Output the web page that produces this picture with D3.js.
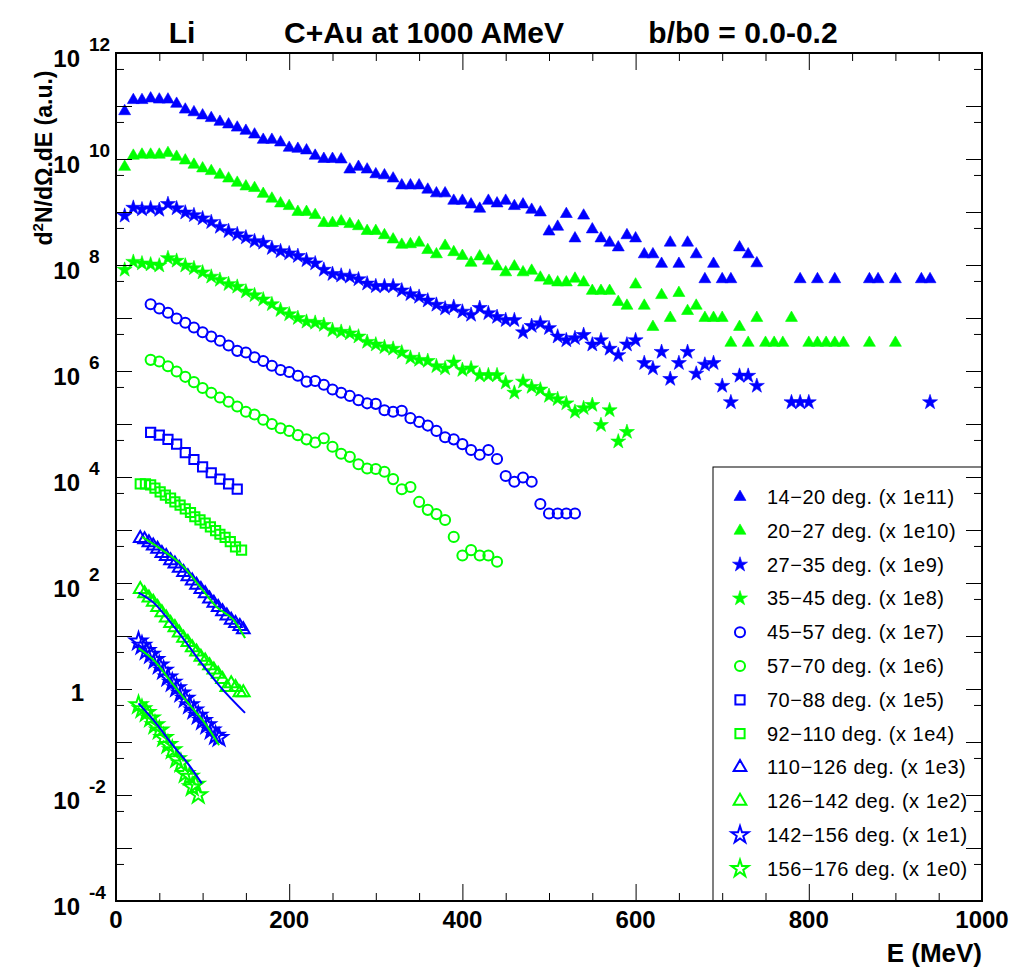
<!DOCTYPE html>
<html><head><meta charset="utf-8">
<script src="https://cdn.jsdelivr.net/npm/d3@7"></script>
<style>body{margin:0;background:#fff}svg{display:block}</style>
</head><body>
<script>
// ---------- DATA (E in MeV, values given as log10 of d2N/dOmega.dE) ----------
const s1_E = [10,20,30,40,50,60,70,80,90,100,110,120,130,140,150,160,170,180,190,200,210,220,230,240,250,260,270,280,290,300,310,320,330,340,350,360,370,380,390,400,410,420,430,440,450,460,470,480,490,500,510,520,530,540,550,560,570,580,590,600,610,620,630,640,650,660,670,680,690,700,710,720,730,740,790,810,830,870,880,900,930,940];
const s1_L = [10.92,11.13,11.13,11.16,11.14,11.14,11.06,10.95,10.90,10.84,10.79,10.72,10.67,10.61,10.55,10.48,10.38,10.38,10.33,10.23,10.21,10.18,10.08,10.02,10.02,10.01,9.82,9.87,9.82,9.73,9.71,9.65,9.52,9.52,9.52,9.44,9.37,9.37,9.23,9.23,9.16,9.08,9.23,9.18,9.23,9.13,9.16,9.06,9.01,8.65,8.74,8.98,8.52,8.95,8.69,8.52,8.44,8.35,8.58,8.52,8.22,8.22,8.04,8.44,8.04,8.44,8.22,7.75,8.04,7.75,7.75,8.35,8.22,8.05,7.75,7.75,7.75,7.75,7.75,7.75,7.75,7.75];

const s2_E = [10,20,30,40,50,60,70,80,90,100,110,120,130,140,150,160,170,180,190,200,210,220,230,240,250,260,270,280,290,300,310,320,330,340,350,360,370,380,390,400,410,420,430,440,450,460,470,480,490,500,510,520,530,540,550,560,570,580,590,600,610,620,630,640,650,660,670,680,690,700,710,720,730,740,750,760,770,780,800,810,820,830,840,870,900];
const s2_L = [9.87,10.08,10.10,10.10,10.10,10.13,10.06,9.99,9.91,9.84,9.79,9.72,9.65,9.57,9.50,9.47,9.36,9.27,9.18,9.13,9.02,9.02,8.96,8.81,8.81,8.84,8.79,8.75,8.66,8.66,8.58,8.50,8.40,8.41,8.44,8.30,8.22,8.38,8.26,8.19,8.06,8.18,8.10,7.99,7.88,7.99,7.88,7.91,7.78,7.72,7.69,7.69,7.76,7.69,7.53,7.53,7.53,7.32,7.25,7.65,7.25,6.85,7.45,7.02,7.49,7.15,7.25,7.02,7.02,7.02,6.55,6.85,6.55,7.02,6.55,6.55,6.55,7.02,6.55,6.55,6.55,6.55,6.55,6.55,6.55];

const s3_E = [10,20,30,40,50,60,70,80,90,100,110,120,130,140,150,160,170,180,190,200,210,220,230,240,250,260,270,280,290,300,310,320,330,340,350,360,370,380,390,400,410,420,430,440,450,460,470,480,490,500,510,520,530,540,550,560,570,580,590,600,610,620,630,640,650,660,670,680,690,700,710,720,730,740,780,790,800,940];
const s3_L = [8.93,9.08,9.05,9.07,9.04,9.15,9.07,8.99,8.94,8.88,8.81,8.72,8.64,8.58,8.52,8.45,8.42,8.32,8.26,8.22,8.17,8.09,8.03,7.91,7.83,7.80,7.78,7.73,7.65,7.60,7.60,7.60,7.52,7.45,7.40,7.33,7.25,7.18,7.21,7.12,7.06,7.19,7.09,7.02,6.96,6.96,6.73,6.85,6.90,6.81,6.65,6.58,6.62,6.68,6.50,6.58,6.42,6.30,6.50,6.58,6.15,6.05,6.36,5.85,6.15,6.36,5.95,6.12,6.15,5.72,5.41,5.91,5.91,5.72,5.41,5.41,5.41,5.41];

const s4_E = [10,20,30,40,50,60,70,80,90,100,110,120,130,140,150,160,170,180,190,200,210,220,230,240,250,260,270,280,290,300,310,320,330,340,350,360,370,380,390,400,410,420,430,440,450,460,470,480,490,500,510,520,530,540,550,560,570,580,590];
const s4_L = [7.91,8.06,8.03,8.01,7.99,8.13,8.08,7.99,7.94,7.86,7.78,7.72,7.64,7.59,7.50,7.43,7.35,7.26,7.15,7.07,7.00,6.93,6.91,6.87,6.77,6.74,6.71,6.65,6.55,6.50,6.45,6.42,6.35,6.25,6.21,6.19,6.09,6.05,6.16,6.02,6.05,5.92,5.92,5.92,5.78,5.59,5.80,5.70,5.65,5.53,5.47,5.39,5.23,5.30,5.36,4.98,5.26,4.67,4.85];

const s5_E = [40,50,60,70,80,90,100,110,120,130,140,150,160,170,180,190,200,210,220,230,240,250,260,270,280,290,300,310,320,330,340,350,360,370,380,390,400,410,420,430,440,450,460,470,480,490,500,510,520,530];
const s5_L = [7.26,7.18,7.10,6.99,6.91,6.82,6.73,6.65,6.57,6.48,6.38,6.35,6.26,6.19,6.10,6.02,5.98,5.91,5.80,5.81,5.74,5.65,5.59,5.53,5.45,5.39,5.38,5.26,5.23,5.25,5.11,5.04,4.97,4.87,4.75,4.71,4.62,4.51,4.42,4.51,4.34,4.02,3.91,3.99,3.91,3.49,3.31,3.31,3.31,3.31];

const s6_E = [40,50,60,70,80,90,100,110,120,130,140,150,160,170,180,190,200,210,220,230,240,250,260,270,280,290,300,310,320,330,340,350,360,370,380,390,400,410,420,430,440];
const s6_L = [6.21,6.18,6.09,5.99,5.89,5.79,5.68,5.59,5.50,5.42,5.33,5.23,5.18,5.08,5.00,4.92,4.87,4.79,4.71,4.65,4.73,4.57,4.44,4.38,4.24,4.16,4.15,4.10,3.96,3.77,3.81,3.53,3.38,3.30,3.19,2.87,2.52,2.62,2.52,2.52,2.40];

const s7_E = [40,50,60,70,80,90,100,110,120,130,140];
const s7_L = [4.84,4.79,4.71,4.62,4.46,4.33,4.19,4.08,3.96,3.87,3.77];

const s8_E = [28,34,40,45,51,57,63,68,74,80,86,91,97,103,109,115,120,126,132,138,145];
const s8_L = [3.87,3.87,3.85,3.79,3.72,3.66,3.60,3.53,3.47,3.40,3.33,3.25,3.19,3.13,3.06,2.99,2.92,2.86,2.78,2.68,2.62];

const s9_E = [28,33,38,43,48,53,58,63,68,73,78,83,88,93,98,103,108,113,118,123,128,133,138,143,147];
const s9_L = [2.86,2.84,2.78,2.72,2.66,2.58,2.52,2.44,2.38,2.30,2.22,2.14,2.06,1.98,1.90,1.82,1.72,1.64,1.56,1.48,1.40,1.32,1.26,1.20,1.14];

const s10_E = [28,33,38,43,48,53,58,63,68,73,78,83,88,93,98,103,108,113,118,123,128,133,138,143,147];
const s10_L = [1.90,1.82,1.74,1.66,1.56,1.46,1.36,1.26,1.18,1.08,0.98,0.90,0.80,0.72,0.62,0.55,0.46,0.38,0.30,0.20,0.05,0.12,0.05,-0.05,-0.05];

const s11_E = [26,30,35,40,45,50,55,60,65,70,75,80,85,90,95,100,105,110,115,119];
const s11_L = [0.90,0.82,0.72,0.65,0.55,0.45,0.35,0.22,0.12,0.02,-0.08,-0.18,-0.30,-0.40,-0.50,-0.60,-0.68,-0.78,-0.88,-0.92];

const s12_E = [26,30,35,40,45,50,55,60,65,70,75,80,85,88,92,95];
const s12_L = [-0.30,-0.38,-0.45,-0.55,-0.68,-0.78,-0.92,-1.05,-1.15,-1.32,-1.40,-1.60,-1.65,-1.85,-1.80,-2.00];

// fitted curves
const fit9_E = [30,50,78,97,116,136,149];
const fit9_L = [2.87,2.66,2.31,1.93,1.55,1.30,0.96];
const fit10_E = [26,44,61,80,97,120,149];
const fit10_L = [1.82,1.62,1.30,0.90,0.52,0.05,-0.45];
const fit11_E = [26,45,65,85,105,119];
const fit11_L = [0.77,0.52,0.10,-0.30,-0.70,-1.06];
const fit12_E = [26,45,65,85,99];
const fit12_L = [-0.27,-0.62,-1.05,-1.45,-1.78];

const legendLabels = ["14\u221220 deg. (x 1e11)","20\u221227 deg. (x 1e10)","27\u221235 deg. (x 1e9)","35\u221245 deg. (x 1e8)","45\u221257 deg. (x 1e7)","57\u221270 deg. (x 1e6)","70\u221288 deg. (x 1e5)","92\u2212110 deg. (x 1e4)","110\u2212126 deg. (x 1e3)","126\u2212142 deg. (x 1e2)","142\u2212156 deg. (x 1e1)","156\u2212176 deg. (x 1e0)"];
const xTickLabels = [0,200,400,600,800,1000];
const yLabelExps = [12,10,8,6,4,2,0,-2,-4];
const titleParts = ["Li","C+Au at 1000 AMeV","b/b0 = 0.0-0.2"];

// ---------- DRAWING ----------
const W = 1016, H = 971;
const L = 116, R = 982, T = 53, B = 901;
const BLUE = "#0000ff", GREEN = "#00ff00";
const svg = d3.select("body").append("svg").attr("width", W).attr("height", H);
const x = d3.scaleLinear().domain([0, 1000]).range([L, R]);
const y = d3.scaleLog().domain([1e-4, 1e12]).range([B, T]);

const series = [
  {E:s1_E, L:s1_L, shape:"tri", fill:true, c:BLUE},
  {E:s2_E, L:s2_L, shape:"tri", fill:true, c:GREEN},
  {E:s3_E, L:s3_L, shape:"star", fill:true, c:BLUE},
  {E:s4_E, L:s4_L, shape:"star", fill:true, c:GREEN},
  {E:s5_E, L:s5_L, shape:"circle", fill:false, c:BLUE},
  {E:s6_E, L:s6_L, shape:"circle", fill:false, c:GREEN},
  {E:s7_E, L:s7_L, shape:"square", fill:false, c:BLUE},
  {E:s8_E, L:s8_L, shape:"square", fill:false, c:GREEN},
  {E:s9_E, L:s9_L, shape:"tri", fill:false, c:BLUE},
  {E:s10_E, L:s10_L, shape:"tri", fill:false, c:GREEN},
  {E:s11_E, L:s11_L, shape:"star", fill:false, c:BLUE},
  {E:s12_E, L:s12_L, shape:"star", fill:false, c:GREEN},
];
const fits = [
  {E:fit9_E, L:fit9_L, c:GREEN},
  {E:fit10_E, L:fit10_L, c:BLUE},
  {E:fit11_E, L:fit11_L, c:GREEN},
  {E:fit12_E, L:fit12_L, c:BLUE},
];

function symPath(shape, fill){
  const types = {tri:d3.symbolTriangle, star:d3.symbolStar, circle:d3.symbolCircle, square:d3.symbolSquare};
  const sizes = {tri: fill?62:70, star: fill?70:90, circle:80, square:85};
  return d3.symbol().type(types[shape]).size(sizes[shape])();
}
const strokeW = s => s.fill ? 0.6 : 2;

const plot = svg.append("g");
series.forEach(s => {
  const g = plot.append("g");
  const p = symPath(s.shape, s.fill);
  g.selectAll("path").data(s.E.map((e,i)=>[e, Math.pow(10, s.L[i])])).join("path")
    .attr("d", p)
    .attr("transform", d => `translate(${x(d[0])},${y(d[1]) + (s.shape==="tri"?1:0)})`)
    .attr("fill", s.fill ? s.c : "none")
    .attr("stroke", s.c)
    .attr("stroke-width", strokeW(s));
});
const line = d3.line().curve(d3.curveMonotoneX).x(d=>x(d[0])).y(d=>y(d[1]));
fits.forEach(f => {
  plot.append("path").datum(f.E.map((e,i)=>[e, Math.pow(10, f.L[i])]))
    .attr("d", line).attr("fill","none").attr("stroke", f.c).attr("stroke-width", 2);
});

// legend
const lg = svg.append("g");
lg.append("rect").attr("x", 713).attr("y", 467).attr("width", R-713).attr("height", B-467)
  .attr("fill", "#fff").attr("stroke", "#000").attr("stroke-width", 1);
legendLabels.forEach((t,i) => {
  const s = series[i];
  const yy = 497 + i*33.8;
  lg.append("path").attr("d", symPath(s.shape, s.fill))
    .attr("transform", `translate(740,${yy})`)
    .attr("fill", s.fill ? s.c : "none").attr("stroke", s.c).attr("stroke-width", strokeW(s));
  lg.append("text").attr("x", 767).attr("y", yy + 7).text(t)
    .attr("font-family", "Liberation Sans, Arial, sans-serif").attr("font-size", 20)
    .attr("letter-spacing", 0.5);
});

// axes (ticks inward)
const xMinor = d3.range(0, 1001, 50);
const axB = d3.axisBottom(x).tickValues(xMinor).tickSizeInner(0).tickSizeOuter(0).tickFormat("");
const gb = svg.append("g").attr("transform", `translate(0,${B})`).call(axB);
gb.select(".domain").remove();
gb.selectAll(".tick line").attr("y2", d => d % 200 === 0 ? -17 : -8).attr("stroke","#000");
const axT = d3.axisTop(x).tickValues(xMinor).tickSizeInner(0).tickSizeOuter(0).tickFormat("");
const gt = svg.append("g").attr("transform", `translate(0,${T})`).call(axT);
gt.select(".domain").remove();
gt.selectAll(".tick line").attr("y2", d => d % 200 === 0 ? 17 : 8).attr("stroke","#000");

const yTicks = [];
for (let e=-4; e<=12; e++){ yTicks.push(Math.pow(10,e)); if (e<12) yTicks.push(5*Math.pow(10,e)); }
const isDecade = v => Math.abs(Math.log10(v) - Math.round(Math.log10(v))) < 1e-6;
const axL = d3.axisLeft(y).tickValues(yTicks).tickSizeInner(0).tickSizeOuter(0).tickFormat("");
const gl = svg.append("g").attr("transform", `translate(${L},0)`).call(axL);
gl.select(".domain").remove();
gl.selectAll(".tick line").attr("x2", d => isDecade(d) ? 16 : 8).attr("stroke","#000");
const axR = d3.axisRight(y).tickValues(yTicks).tickSizeInner(0).tickSizeOuter(0).tickFormat("");
const gr = svg.append("g").attr("transform", `translate(${R},0)`).call(axR);
gr.select(".domain").remove();
gr.selectAll(".tick line").attr("x2", d => isDecade(d) ? -16 : -8).attr("stroke","#000");

svg.append("rect").attr("x", L).attr("y", T).attr("width", R-L).attr("height", B-T)
  .attr("fill","none").attr("stroke","#000").attr("stroke-width", 2);

const FONT = "Liberation Sans, Arial, Helvetica, sans-serif";
// x labels
svg.append("g").selectAll("text").data(xTickLabels).join("text")
  .attr("x", d => x(d)).attr("y", B + 27).attr("text-anchor","middle")
  .attr("font-family", FONT).attr("font-weight","bold").attr("font-size", 24)
  .text(d => d);
// y labels
yLabelExps.forEach(e => {
  const yy = y(Math.pow(10,e));
  if (e === 0) {
    svg.append("text").attr("x", 84).attr("y", yy + 12).attr("text-anchor","end")
      .attr("font-family", FONT).attr("font-weight","bold").attr("font-size", 24).text("1");
  } else {
    svg.append("text").attr("x", 80).attr("y", yy + 14).attr("text-anchor","end")
      .attr("font-family", FONT).attr("font-weight","bold").attr("font-size", 24).text("10");
    svg.append("text").attr("x", 89).attr("y", yy - 2)
      .attr("font-family", FONT).attr("font-weight","bold").attr("font-size", 19).text(e);
  }
});

// axis titles
svg.append("text").attr("x", R).attr("y", 962).attr("text-anchor","end")
  .attr("font-family", FONT).attr("font-weight","bold").attr("font-size", 26).text("E (MeV)");
const yt = svg.append("text").attr("transform", "translate(52,158) rotate(-90)").attr("text-anchor","middle")
  .attr("font-family", FONT).attr("font-weight","bold").attr("font-size", 23);
yt.append("tspan").text("d");
yt.append("tspan").attr("dy", -9).attr("font-size", 15).text("2");
yt.append("tspan").attr("dy", 9).text("N/d\u03A9.dE (a.u.)");

// title
const titleX = [182, 424, 743];
titleParts.forEach((t,i) => {
  svg.append("text").attr("x", titleX[i]).attr("y", 43).attr("text-anchor","middle")
    .attr("font-family", FONT).attr("font-weight","bold").attr("font-size", 30).text(t);
});
</script>
</body></html>
